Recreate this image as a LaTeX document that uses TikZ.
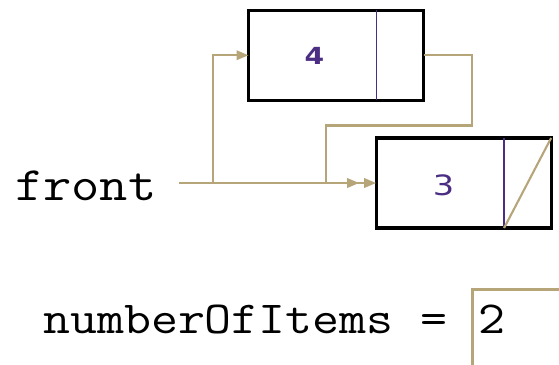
\documentclass[tikz,border=0pt]{standalone}
\usepackage{fontspec}
\usetikzlibrary{arrows.meta}
\newfontfamily\valfont{DejaVu Sans}
\definecolor{ptrgold}{HTML}{B7A57A}
\definecolor{valpurple}{HTML}{4B2E83}
% wide typewriter text
\newcommand{\widett}[2]{\scalebox{1.143}[1]{\ttfamily\fontsize{#1}{#1}\selectfont #2}}
\begin{document}
\begin{tikzpicture}[x=1pt,y=-1pt,
  listbox/.style={draw=black,line width=3.2pt,minimum width=175pt,minimum height=90pt,inner sep=0pt,outer sep=0pt},
  divider/.style={draw=valpurple,line width=1.8pt},
  ptr/.style={draw=ptrgold,line width=2.1pt},
  ptrtip/.style={-{Triangle[length=12pt,width=9.5pt]}},
  valtext/.style={text=valpurple,inner sep=0pt},
  codetext/.style={inner sep=0pt,anchor=base west},
  countbox/.style={draw=ptrgold,line width=2.6pt,anchor=north west,minimum width=120pt,minimum height=120pt,inner sep=0pt}
]
\useasboundingbox (0,0) rectangle (559,364);
\clip (0,0) rectangle (559,364);

% list nodes
\node[listbox] (n4) at (336,55.25) {};
\node[listbox] (n3) at (463.6,183) {};
\draw[divider] ([xshift=128pt]n4.north west) -- ([xshift=128pt]n4.south west);
\draw[divider] ([xshift=128pt]n3.north west) -- ([xshift=128pt]n3.south west);
\node[valtext] (v4) at ([xshift=66pt,yshift=-1pt]n4.west) {\scalebox{1.2}[1]{\valfont\bfseries\fontsize{23.5}{23.5}\selectfont 4}};
\node[valtext] (v3) at ([xshift=67.5pt,yshift=-2pt]n3.west) {\scalebox{1.2}[1]{\valfont\fontsize{28}{28}\selectfont 3}};

% null link of the last node
\draw[ptr] ([xshift=128pt]n3.south west) -- (n3.north east);

% front pointer
\node[codetext] (front) at (15,200) {\widett{48}{front}};
\coordinate (fs) at (179,183);
\draw[ptr,ptrtip] (fs) -- ++(34,0) |- (n4.west);
\draw[ptr,ptrtip] (fs) -- (n3.west);

% next link from 4 to 3
\coordinate (bend) at (472,125.5);
\coordinate (drop) at (326,183);
\draw[ptr,ptrtip] (n4.east) -| (bend) -| (drop) -- ([xshift=-17pt]n3.west);

% item counter
\node[codetext] (cntlabel) at (43,333) {\widett{45.8}{numberOfItems =}};
\node[countbox] (cnt) at (471,288) {};
\node[codetext] (two) at (478,333) {\widett{45.8}{2}};
\end{tikzpicture}
\end{document}
